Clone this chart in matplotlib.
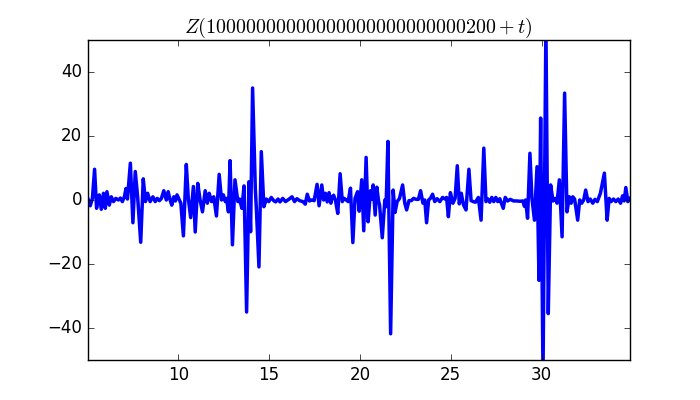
import matplotlib
matplotlib.use("Agg")
import matplotlib.pyplot as plt

plt.style.use("classic")

# extrema (t, Z)
t = [5.00, 5.07, 5.15, 5.27, 5.39, 5.50, 5.58, 5.65, 5.76, 5.88, 5.98, 6.07, 6.20, 6.31,
     6.43, 6.56, 6.70, 6.81, 6.92, 7.03, 7.12, 7.20, 7.36, 7.50, 7.63, 7.76, 7.93, 8.07,
     8.19, 8.31, 8.45, 8.60, 8.73, 8.84, 8.96, 9.07, 9.20, 9.34, 9.44, 9.55, 9.64, 9.75,
     9.84, 9.93, 10.06, 10.14, 10.28, 10.44, 10.55, 10.68, 10.83, 10.93, 11.07, 11.20,
     11.33, 11.48, 11.60, 11.70, 11.83, 11.95, 12.10, 12.25, 12.38, 12.48, 12.59, 12.66,
     12.76, 12.85, 12.98, 13.12, 13.28, 13.37, 13.50, 13.62, 13.76, 13.89, 13.98, 14.09,
     14.24, 14.30, 14.44, 14.57, 14.71, 14.85, 14.98, 15.12, 15.25, 15.36, 15.49, 15.60,
     15.75, 15.90, 16.08, 16.26, 16.40, 16.53, 16.68, 16.86, 16.99, 17.10, 17.22, 17.35,
     17.48, 17.64, 17.75, 17.90, 18.00, 18.10, 18.20, 18.30, 18.40, 18.47, 18.55, 18.65,
     18.78, 18.91, 19.03, 19.13, 19.25, 19.35, 19.48, 19.61, 19.73, 19.87, 19.96, 20.10,
     20.21, 20.34, 20.45, 20.58, 20.65, 20.73, 20.84, 20.93, 21.03, 21.08, 21.23, 21.37,
     21.44, 21.54, 21.69, 21.83, 21.93, 22.05, 22.18, 22.35, 22.47, 22.57, 22.70, 22.83,
     22.95, 23.10, 23.22, 23.34, 23.47, 23.57, 23.67, 23.78, 23.88, 24.00, 24.12, 24.25,
     24.40, 24.55, 24.68, 24.77, 24.87, 24.98, 25.12, 25.24, 25.36, 25.47, 25.58, 25.70,
     25.84, 26.00, 26.12, 26.24, 26.36, 26.52, 26.67, 26.82, 26.94, 27.03, 27.15, 27.26,
     27.37, 27.48, 27.59, 27.70, 27.89, 28.00, 28.13, 28.28, 28.46, 28.64, 28.82, 28.97,
     29.06, 29.12, 29.23, 29.36, 29.47, 29.53, 29.61, 29.75, 29.86, 29.95, 30.08, 30.24,
     30.37, 30.50, 30.63, 30.76, 30.85, 30.98, 31.13, 31.27, 31.40, 31.53, 31.63, 31.72,
     31.82, 31.99, 32.10, 32.21, 32.32, 32.43, 32.56, 32.68, 32.82, 32.94, 33.07, 33.24,
     33.46, 33.61, 33.72, 33.83, 33.96, 34.09, 34.22, 34.35, 34.46, 34.55, 34.64, 34.75,
     34.87]
z = [0.8, -0.3, -1.8, 0.5, 9.6, -2.6, 0.5, 1.6, -2.9, 2.1, -2.6, 2.6, -1.6, 1.0,
     -0.5, 0.5, 0.0, 0.6, -0.5, 1.0, 3.6, 0.3, 11.5, -7.1, 8.9, 1.0, -13.2, 6.6,
     -0.5, 2.1, -0.5, 1.0, -0.5, 0.5, -0.2, 0.5, 2.9, 0.0, 2.6, 0.0, -1.6, 1.0,
     -0.3, 1.6, 0.0, -1.0, -11.2, 11.1, 0.5, -5.5, 4.2, -10.0, 5.2, 0.0,
     -3.7, 2.9, -1.0, 2.1, -0.5, 1.0, -5.0, 8.0, 0.0, 1.6, -0.5, 0.5,
     -3.7, 12.3, -14.0, 6.3, -0.5, 0.3, -2.6, 4.4, -35.0, 5.7, -9.9, 35.0,
     3.5, -3.0, -20.9, 15.1, -2.1, 0.3, -0.5, 0.8, -0.2, -0.6, 0.3, -0.6,
     0.5, -0.5, 0.2, 1.0, -0.5, 0.4, -0.2, -0.5, -1.3, 1.8, -0.3, 0.0,
     -0.2, 4.9, -1.8, 4.7, 0.0, 2.1, -0.6, 2.3, -1.0, 0.8, 1.5, 0.0,
     -4.2, 8.2, -0.5, 0.5, 0.0, -0.5, 3.7, -13.3, 0.5, 2.6, -3.5, 6.3,
     -9.6, 13.3, -6.8, 2.9, 0.3, 4.7, -4.7, 4.0, -0.5, -1.5, -11.8, 0.0,
     -2.1, 18.3, -41.8, 3.1, -3.9, -0.5, 0.5, 4.7, -1.0, -3.1, -0.2, -0.2,
     0.5, 0.2, 0.2, 2.9, -1.0, 0.0, -7.1, 0.0, 0.5, 1.8, -0.5, 0.4,
     -0.5, 0.8, 0.3, 0.8, -5.2, 2.3, -1.0, 0.5, 10.7, -1.2, 2.1, -1.5,
     -3.1, 9.6, -0.2, -0.5, -0.7, 0.8, -6.3, 16.2, -0.5, 0.4, -0.7, 0.8,
     -0.5, 0.8, -0.5, 0.4, -2.6, 0.8, -0.3, 0.2, -0.3, -0.3, -0.4, -0.3,
     -2.0, 0.0, -5.7, 14.6, 0.5, -2.5, -6.3, 10.4, -25.1, 25.6, -55.0, 55.0,
     -35.5, 4.7, -0.3, 0.5, -1.0, 6.3, -11.5, 33.4, -3.7, 1.0, -1.0, 1.0,
     0.3, -6.3, 0.0, -1.0, 0.0, 3.1, -0.5, 0.3, -1.0, 0.2, -0.5, 2.1,
     8.4, -6.3, 0.5, -0.5, 0.3, -0.5, 0.3, -1.0, 1.3, -0.3, 3.9, -0.5,
     0.5]

fig = plt.figure(figsize=(7, 4), dpi=100)
ax = fig.add_subplot(111)
ax.plot(t, z, color="blue", linewidth=2.5)
ax.set_xlim(5, 34.87)
ax.set_ylim(-50, 50)
ax.set_yticks([-40, -20, 0, 20, 40])
ax.set_xticks([10, 15, 20, 25, 30])
ax.set_title(r"$Z(10000000000000000000000000200+t)$")
fig.savefig("out.png", dpi=100)
